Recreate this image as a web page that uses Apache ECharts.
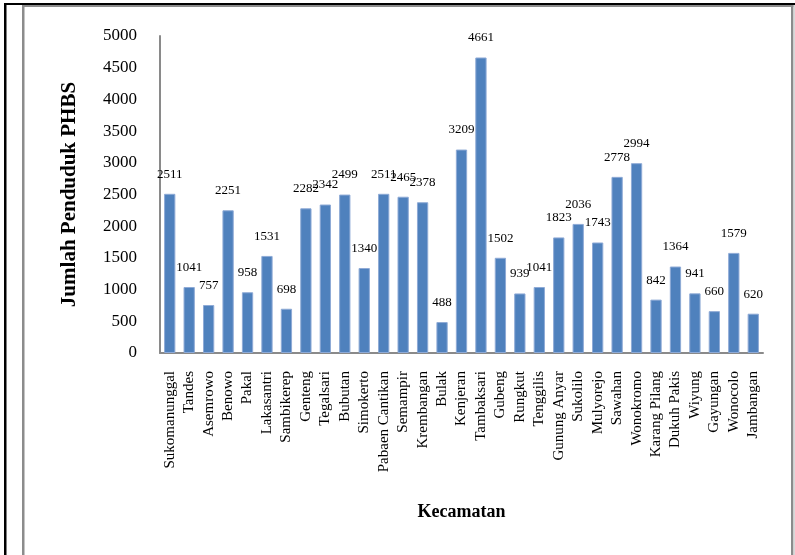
<!DOCTYPE html>
<html>
<head>
<meta charset="utf-8">
<title>Jumlah Penduduk PHBS per Kecamatan</title>
<script src="https://cdn.jsdelivr.net/npm/echarts@6/dist/echarts.min.js"></script>
<style>
  html, body { margin: 0; padding: 0; background: #ffffff; }
  #chart { width: 795px; height: 555px; }
</style>
</head>
<body>
<div id="chart"></div>
<script>
// Districts (kecamatan) in display order
const kecamatan = [
  'Sukomanunggal', 'Tandes', 'Asemrowo', 'Benowo', 'Pakal', 'Lakasantri',
  'Sambikerep', 'Genteng', 'Tegalsari', 'Bubutan', 'Simokerto',
  'Pabaen Cantikan', 'Semampir', 'Krembangan', 'Bulak', 'Kenjeran',
  'Tambaksari', 'Gubeng', 'Rungkut', 'Tenggilis', 'Gunung Anyar',
  'Sukolilo', 'Mulyorejo', 'Sawahan', 'Wonokromo', 'Karang Pilang',
  'Dukuh Pakis', 'Wiyung', 'Gayungan', 'Wonocolo', 'Jambangan'
];

// Residents practising PHBS per district
const pendudukPHBS = [
  2511, 1041, 757, 2251, 958, 1531,
  698, 2282, 2342, 2499, 1340,
  2511, 2465, 2378, 488, 3209,
  4661, 1502, 939, 1041, 1823,
  2036, 1743, 2778, 2994, 842,
  1364, 941, 660, 1579, 620
];

// Value axis range
const yMin = 0;
const yMax = 5000;
const yStep = 500;

const serif = "'Liberation Serif', 'Times New Roman', serif";

const chart = echarts.init(document.getElementById('chart'), null, { renderer: 'canvas' });

chart.setOption({
  animation: false,
  backgroundColor: '#ffffff',
  textStyle: { fontFamily: serif },
  graphic: [
    // outer black frame (left and top)
    { type: 'rect', shape: { x: 4, y: 3, width: 2.5, height: 560 }, style: { fill: '#000000' }, silent: true },
    { type: 'rect', shape: { x: 4, y: 3, width: 800, height: 2 }, style: { fill: '#000000' }, silent: true },
    // inner gray frame
    { type: 'rect', shape: { x: 22, y: 5, width: 2.5, height: 560 }, style: { fill: '#8c8c8c' }, silent: true },
    { type: 'rect', shape: { x: 22, y: 5, width: 772, height: 2 }, style: { fill: '#8c8c8c' }, silent: true },
    { type: 'rect', shape: { x: 791, y: 5, width: 2.5, height: 560 }, style: { fill: '#8c8c8c' }, silent: true },
    { type: 'rect', shape: { x: 793.5, y: 5, width: 2, height: 560 }, style: { fill: '#d9d9d9' }, silent: true }
  ],
  grid: {
    left: 160,
    right: 32,
    top: 36,
    bottom: 202,
    containLabel: false
  },
  xAxis: {
    type: 'category',
    data: kecamatan,
    name: 'Kecamatan',
    nameLocation: 'middle',
    nameGap: 150,
    nameTextStyle: {
      fontFamily: serif,
      fontSize: 18,
      fontWeight: 'bold',
      color: '#000000'
    },
    axisLine: { show: true, lineStyle: { color: '#8a8a8a', width: 2 } },
    axisTick: { show: false },
    axisLabel: {
      interval: 0,
      rotate: 90,
      margin: 18,
      fontFamily: serif,
      fontSize: 15,
      color: '#000000'
    },
    splitLine: { show: false }
  },
  yAxis: {
    type: 'value',
    min: yMin,
    max: yMax,
    interval: yStep,
    name: 'Jumlah Penduduk PHBS',
    nameLocation: 'middle',
    nameRotate: 90,
    nameGap: 80,
    nameTextStyle: {
      fontFamily: serif,
      fontSize: 21,
      fontWeight: 'bold',
      color: '#000000'
    },
    axisLine: { show: true, lineStyle: { color: '#8a8a8a', width: 2 } },
    axisTick: { show: false },
    axisLabel: {
      margin: 23,
      fontFamily: serif,
      fontSize: 17,
      color: '#000000',
      formatter: function (v) { return String(v); }
    },
    splitLine: { show: false }
  },
  series: [{
    type: 'bar',
    data: pendudukPHBS,
    barWidth: '58%',
    itemStyle: {
      color: '#4f81bd',
      borderColor: '#8eaad6',
      borderWidth: 1
    },
    label: {
      show: true,
      position: 'top',
      distance: 13,
      fontFamily: serif,
      fontSize: 13,
      color: '#000000'
    },
    z: 1
  }]
});
</script>
</body>
</html>
